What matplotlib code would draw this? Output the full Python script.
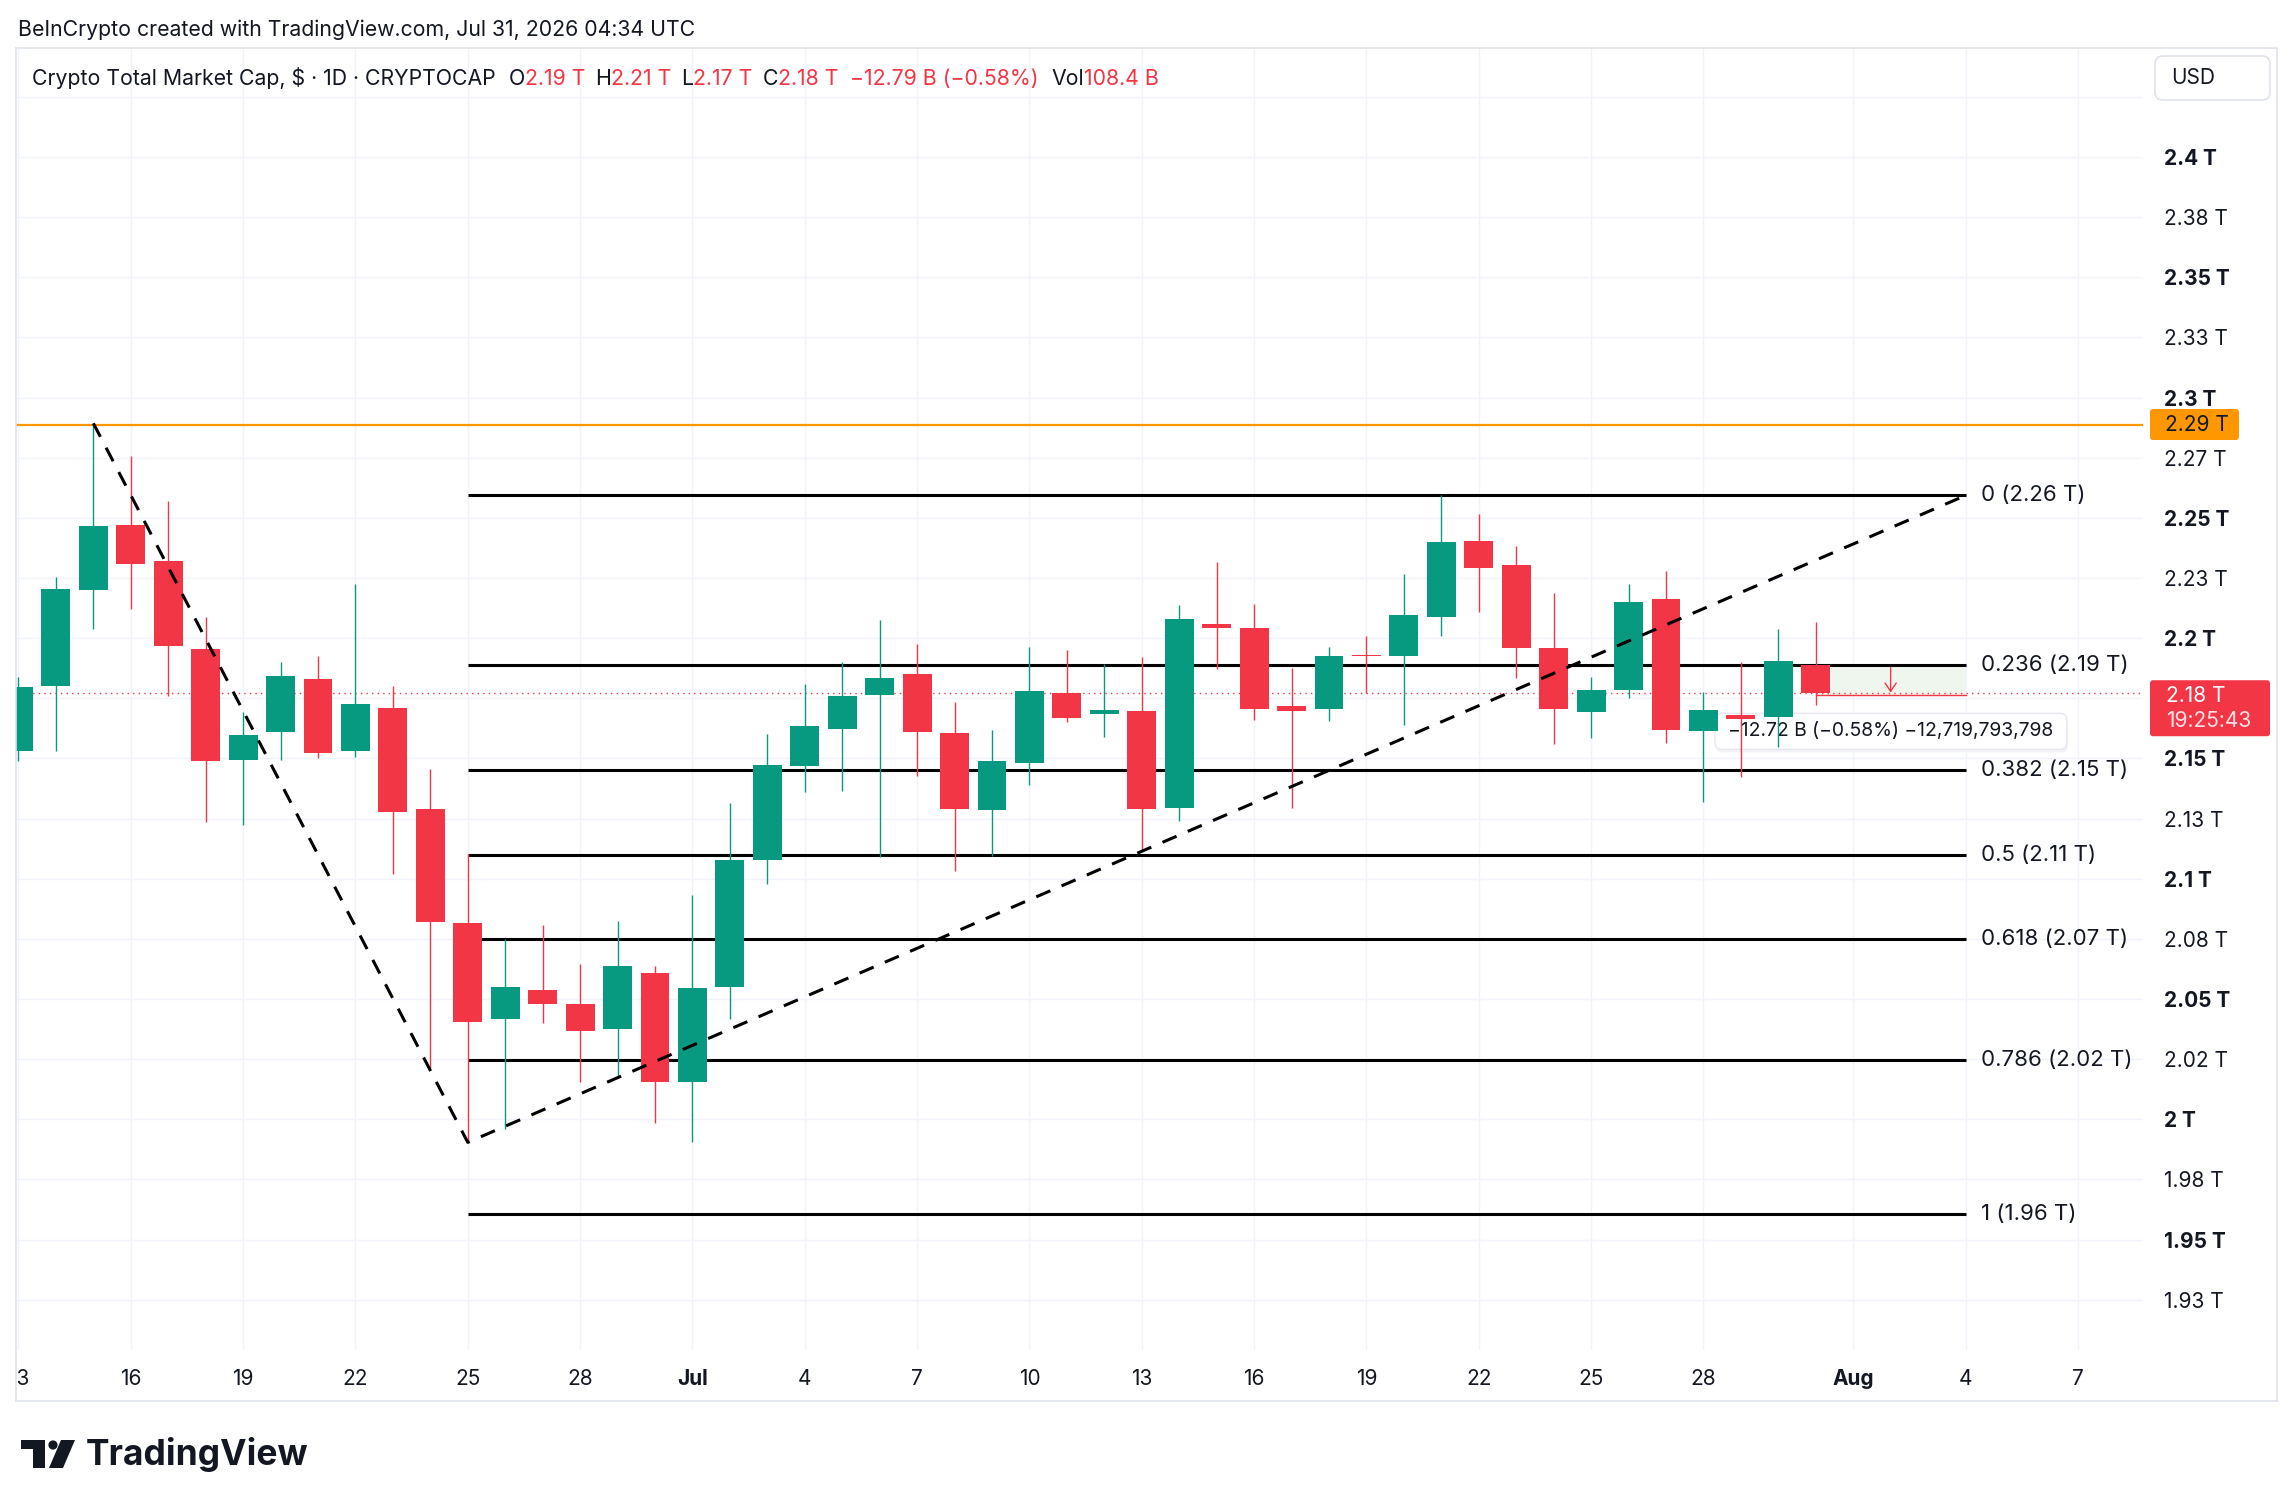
import matplotlib
matplotlib.use("Agg")
import matplotlib.pyplot as plt
import matplotlib.dates as mdates
import matplotlib.transforms as mtrans
from matplotlib.patches import Rectangle, FancyBboxPatch, Polygon, Circle
from matplotlib.lines import Line2D
import numpy as np
import pandas as pd

# ---------------- data ----------------
dates = pd.date_range("2026-06-13", "2026-07-31", freq="D")
opens = [2.153, 2.1799, 2.2199, 2.2472, 2.2321, 2.1956, 2.1494, 2.1609, 2.1832, 2.153,
         2.1708, 2.1289, 2.0815, 2.0418, 2.0538, 2.048, 2.0377, 2.0608, 2.0156, 2.055,
         2.1078, 2.1467, 2.1622, 2.1762, 2.1852, 2.1607, 2.1285, 2.1479, 2.1773, 2.1683,
         2.1697, 2.1292, 2.2059, 2.2043, 2.1719, 2.1705, 2.193, 2.1925, 2.2087, 2.2402,
         2.2302, 2.1961, 2.1693, 2.1784, 2.2161, 2.1614, 2.1681, 2.1672, 2.1889]
highs = [2.184, 2.2255, 2.2893, 2.2757, 2.2571, 2.2086, 2.1692, 2.1902, 2.1927, 2.2226,
         2.1803, 2.1454, 2.1104, 2.0749, 2.0806, 2.0645, 2.0823, 2.0637, 2.0932, 2.1315,
         2.1602, 2.1811, 2.1901, 2.2076, 2.1977, 2.1735, 2.162, 2.1964, 2.1951, 2.1894,
         2.1923, 2.2139, 2.2317, 2.2142, 2.1877, 2.1964, 2.2009, 2.2265, 2.2597, 2.2514,
         2.2385, 2.2186, 2.1837, 2.2223, 2.2281, 2.1777, 2.19, 2.204, 2.2069]
lows = [2.149, 2.153, 2.204, 2.2123, 2.176, 2.1236, 2.1223, 2.1494, 2.1502, 2.1506,
        2.1019, 2.0214, 1.9905, 1.996, 2.04, 2.0156, 2.0173, 1.9985, 1.9905, 2.0416,
        2.0977, 2.1359, 2.1364, 2.1092, 2.1425, 2.1034, 2.1095, 2.1391, 2.165, 2.1591,
        2.1115, 2.124, 2.187, 2.1658, 2.1292, 2.1654, 2.1771, 2.1639, 2.2008, 2.2108,
        2.1834, 2.156, 2.1584, 2.1751, 2.1564, 2.132, 2.1422, 2.1547, 2.172]
closes = [2.1795, 2.2206, 2.2468, 2.2307, 2.1966, 2.1489, 2.1599, 2.1844, 2.1522, 2.1725,
          2.1279, 2.0821, 2.0406, 2.0551, 2.0478, 2.0365, 2.0637, 2.0156, 2.0546, 2.1079,
          2.1474, 2.1636, 2.176, 2.1836, 2.1609, 2.1288, 2.149, 2.1782, 2.167, 2.1703,
          2.1288, 2.2081, 2.2041, 2.1705, 2.1699, 2.1926, 2.1924, 2.2098, 2.2398, 2.2291,
          2.1958, 2.1705, 2.1783, 2.2152, 2.1618, 2.17, 2.1665, 2.1903, 2.1771]

fib_ratios = [0, 0.236, 0.382, 0.5, 0.618, 0.786, 1]
fib_labels = ["0 (2.26 T)", "0.236 (2.19 T)", "0.382 (2.15 T)", "0.5 (2.11 T)",
              "0.618 (2.07 T)", "0.786 (2.02 T)", "1 (1.96 T)"]
fib_high, fib_low = 2.2593, 1.9608
fib_start, fib_end = "2026-06-25", "2026-08-04"

trend_dates = ["2026-06-15", "2026-06-25", "2026-08-04"]
trend_prices = [2.2893, 1.9904, 2.2593]

resistance = 2.2888
resistance_label = "2.29 T"
last_label = "2.18 T"
countdown = "19:25:43"

measure_start, measure_end, measure_arrow = "2026-07-31", "2026-08-04", "2026-08-02"
measure_top, measure_bottom = 2.1889, 2.1762
measure_text = "\u221212.72 B (\u22120.58%) \u221212,719,793,798"

ytick_vals = [1.925, 1.95, 1.975, 2.0, 2.025, 2.05, 2.075, 2.1, 2.125, 2.15, 2.175,
              2.2, 2.225, 2.25, 2.275, 2.3, 2.325, 2.35, 2.375, 2.4, 2.425]
ytick_labels = ["1.93 T", "1.95 T", "1.98 T", "2 T", "2.02 T", "2.05 T", "2.08 T", "2.1 T",
                "2.13 T", "2.15 T", "", "2.2 T", "2.23 T", "2.25 T", "2.27 T", "2.3 T",
                "2.33 T", "2.35 T", "2.38 T", "2.4 T", ""]
xtick_dates = ["2026-06-13", "2026-06-16", "2026-06-19", "2026-06-22", "2026-06-25",
               "2026-06-28", "2026-07-01", "2026-07-04", "2026-07-07", "2026-07-10",
               "2026-07-13", "2026-07-16", "2026-07-19", "2026-07-22", "2026-07-25",
               "2026-07-28", "2026-08-01", "2026-08-04", "2026-08-07"]
xtick_labels = ["13", "16", "19", "22", "25", "28", "Jul", "4", "7", "10", "13", "16",
                "19", "22", "25", "28", "Aug", "4", "7"]

header = "BeInCrypto created with TradingView.com, Jul 31, 2026 04:34 UTC"
legend_items = [("Crypto Total Market Cap, $ \u00b7 1D \u00b7 CRYPTOCAP", "dark", 0),
                ("O", "dark", 13), ("2.19 T", "red", 0),
                ("H", "dark", 10), ("2.21 T", "red", 0),
                ("L", "dark", 10), ("2.17 T", "red", 0),
                ("C", "dark", 10), ("2.18 T", "red", 0),
                ("\u221212.79 B (\u22120.58%)", "red", 11),
                ("Vol", "dark", 13), ("108.4 B", "red", 0)]

# ---------------- style ----------------
W, H = 2294, 1509
plt.rcParams['font.family'] = ["Inter", "DejaVu Sans"]
GREEN = "#089981"
RED = "#F23645"
DARK = "#131722"
GRID = "#F0F3FA"
FRAME = "#E0E3EB"
ORANGE = "#FF9800"
COLS = {"dark": DARK, "red": RED}
FS_HEAD = 15.3
FS_AXIS = 15
FS_FIB = 16
FS_TIP = 13.9

fig = plt.figure(figsize=(W / 100, H / 100), dpi=100)
fig.patch.set_facecolor("white")
ident = mtrans.IdentityTransform()


def fx(x):
    return x / W


def fy(y):
    return 1 - y / H


PL, PR, PT, PB = 16, 2143, 48, 1350
ax = fig.add_axes([fx(PL), fy(PB), fx(PR) - fx(PL), fy(PT) - fy(PB)])
x = mdates.date2num(dates)
d0 = x[0]
ax.set_xlim(d0 - 0.066, d0 + 56.74)
ax.set_ylim(1.9041, 2.4453)
for s in ax.spines.values():
    s.set_visible(False)

# grid
xt = mdates.date2num(pd.to_datetime(xtick_dates))
ax.set_xticks(xt)
ax.set_xticklabels([])
ax.set_yticks(ytick_vals)
ax.set_yticklabels(ytick_labels)
ax.yaxis.tick_right()
ax.tick_params(axis="both", length=0)
ax.tick_params(axis="y", pad=15, labelsize=FS_AXIS, labelcolor=DARK)
ax.tick_params(axis="x", labelbottom=False)
for v, lab in zip(ytick_vals, ax.get_yticklabels()):
    if abs(v * 20 - round(v * 20)) < 1e-6:
        lab.set_fontweight("bold")
ax.grid(True, color=GRID, lw=1.0, zorder=0)
ax.set_axisbelow(True)

# candles
for xi, o, h, l, c in zip(x, opens, highs, lows, closes):
    col = GREEN if c >= o else RED
    ax.vlines(xi, l, h, color=col, lw=1.0, zorder=5)
    hgt = max(abs(c - o), 0.0006)
    ax.bar(xi, hgt, bottom=min(o, c), width=0.77, color=col, zorder=5, linewidth=0)

# fib
fs, fe = mdates.date2num(pd.to_datetime(fib_start)), mdates.date2num(pd.to_datetime(fib_end))
for r, lab in zip(fib_ratios, fib_labels):
    lvl = fib_high - r * (fib_high - fib_low)
    ax.plot([fs, fe], [lvl, lvl], color="black", lw=2.2, zorder=4, solid_capstyle="butt")
    ax.annotate(lab, xy=(fe, lvl), xytext=(11, 0), textcoords="offset points",
                va="center", ha="left", fontsize=FS_FIB, color=DARK, annotation_clip=False)

# trend dashed lines
tx = mdates.date2num(pd.to_datetime(trend_dates))
ax.plot(tx, trend_prices, color="black", lw=2.2, ls=(0, (5, 4)), zorder=6)

# resistance
ax.axhline(resistance, color=ORANGE, lw=1.6, zorder=4)
# last price dotted
ax.axhline(closes[-1], color=RED, lw=1.0, ls=(0, (1, 3)), zorder=3)

# measure tool
ms = mdates.date2num(pd.to_datetime(measure_start))
me = mdates.date2num(pd.to_datetime(measure_end))
ma = mdates.date2num(pd.to_datetime(measure_arrow))
ax.add_patch(Rectangle((ms, measure_bottom), me - ms, measure_top - measure_bottom,
                       facecolor="#EEF6EE", edgecolor="none", zorder=2))
ax.plot([ms, me], [measure_bottom, measure_bottom], color=RED, lw=1.0, zorder=3)
ax.annotate("", xy=(ma, measure_bottom), xytext=(ma, measure_top),
            arrowprops=dict(arrowstyle="->,head_length=0.6,head_width=0.4", color=RED, lw=1.0),
            zorder=3)

fig.canvas.draw()


def ypix(p):
    return ax.transData.transform((x[0], p))[1]


def xpix(d):
    return ax.transData.transform((d, 2.0))[0]


# tooltip
tb_left = xpix(x[0] + 45.31)
tb_right = xpix(x[0] + 54.71)
yc = ypix(measure_bottom) - 36
tip = FancyBboxPatch((tb_left, yc - 18), tb_right - tb_left, 36,
                     boxstyle="round,pad=0,rounding_size=7", transform=ident,
                     facecolor="white", edgecolor="#E6E8EE", lw=1.0, zorder=1)
shadow = FancyBboxPatch((tb_left + 1, yc - 21), tb_right - tb_left, 36,
                        boxstyle="round,pad=0,rounding_size=7", transform=ident,
                        facecolor="#F2F3F6", edgecolor="none", zorder=0.9)
ax.add_patch(shadow)
ax.add_patch(tip)
for p in (tip, shadow):
    p.set_clip_on(False)
ax.text(tb_left + 13, yc, measure_text, transform=ident, va="center", ha="left",
        fontsize=FS_TIP, color=DARK, zorder=1.5, clip_on=False)

# price axis boxes
yr = ypix(resistance)
ob = FancyBboxPatch((2150, yr - 15.5), 89, 31, boxstyle="round,pad=0,rounding_size=3",
                    transform=ident, facecolor=ORANGE, edgecolor="none", zorder=10)
fig.patches.append(ob)
fig.text(2165 / W, yr / H, resistance_label, va="center", ha="left", fontsize=FS_AXIS,
         color=DARK, zorder=11)
ylast = ypix(closes[-1])
rb = FancyBboxPatch((2150, ylast - 43), 120, 56, boxstyle="round,pad=0,rounding_size=3",
                    transform=ident, facecolor=RED, edgecolor="none", zorder=10)
fig.patches.append(rb)
fig.text(2166 / W, (ylast - 2.5) / H, last_label, va="center", ha="left", fontsize=FS_AXIS,
         color="white", zorder=11)
fig.text(2166 / W, (ylast - 28) / H, countdown, va="center", ha="left", fontsize=FS_AXIS,
         color="#FDE3E6", zorder=11)

# time axis strip
axt = fig.add_axes([fx(PL), fy(1401), fx(PR) - fx(PL), fy(1350) - fy(1401)])
axt.set_xlim(ax.get_xlim())
axt.set_ylim(0, 1)
axt.axis("off")
for xv, lab in zip(xt, xtick_labels):
    bold = lab in ("Jul", "Aug")
    axt.text(xv, 0.43, lab, ha="center", va="center", fontsize=FS_AXIS, color=DARK,
             fontweight="bold" if bold else "normal", clip_on=True)

# frame
for (x1, y1, x2, y2) in [(16, 48, 2277, 48), (16, 1401, 2277, 1401),
                         (16, 48, 16, 1401), (2277, 48, 2277, 1401)]:
    fig.add_artist(Line2D([fx(x1), fx(x2)], [fy(y1), fy(y2)], color=FRAME, lw=1.2,
                          transform=fig.transFigure))

# header & legend
fig.text(fx(18), fy(30), header, va="center", ha="left", fontsize=FS_HEAD, color=DARK)
prev = ax.annotate(legend_items[0][0], xy=(fx(32), fy(78)), xycoords="figure fraction",
                   va="center", ha="left", fontsize=FS_HEAD, color=DARK, annotation_clip=False,
                   zorder=12)
for txt, col, gap in legend_items[1:]:
    prev = ax.annotate(txt, xy=(1, 0), xycoords=prev, xytext=(gap * 0.72, 0),
                       textcoords="offset points", va="bottom", ha="left", fontsize=FS_HEAD,
                       color=COLS[col], annotation_clip=False, zorder=12)

# USD box
ub = FancyBboxPatch((2155, H - 100), 115, 44, boxstyle="round,pad=0,rounding_size=8",
                    transform=ident, facecolor="white", edgecolor=FRAME, lw=1.2, zorder=10)
fig.patches.append(ub)
fig.text(2171 / W, fy(78), "USD", va="center", ha="left", fontsize=FS_AXIS, color=DARK, zorder=11)

# TradingView logo
def P(px, py):
    return (px, H - py)


fig.patches.append(Polygon([P(21, 1440), P(45, 1440), P(45, 1468), P(33, 1468), P(33, 1449),
                            P(21, 1449)], closed=True, transform=ident, facecolor=DARK,
                           edgecolor="none"))
fig.patches.append(Circle(P(53, 1445), 4.6, transform=ident, facecolor=DARK, edgecolor="none"))
fig.patches.append(Polygon([P(61, 1440), P(75, 1440), P(63, 1468), P(49, 1468)], closed=True,
                           transform=ident, facecolor=DARK, edgecolor="none"))
fig.text(fx(86), fy(1455), "TradingView", va="center", ha="left", fontsize=25.5,
         fontweight="bold", color=DARK)

fig.savefig("out.png", dpi=100, facecolor="white")
